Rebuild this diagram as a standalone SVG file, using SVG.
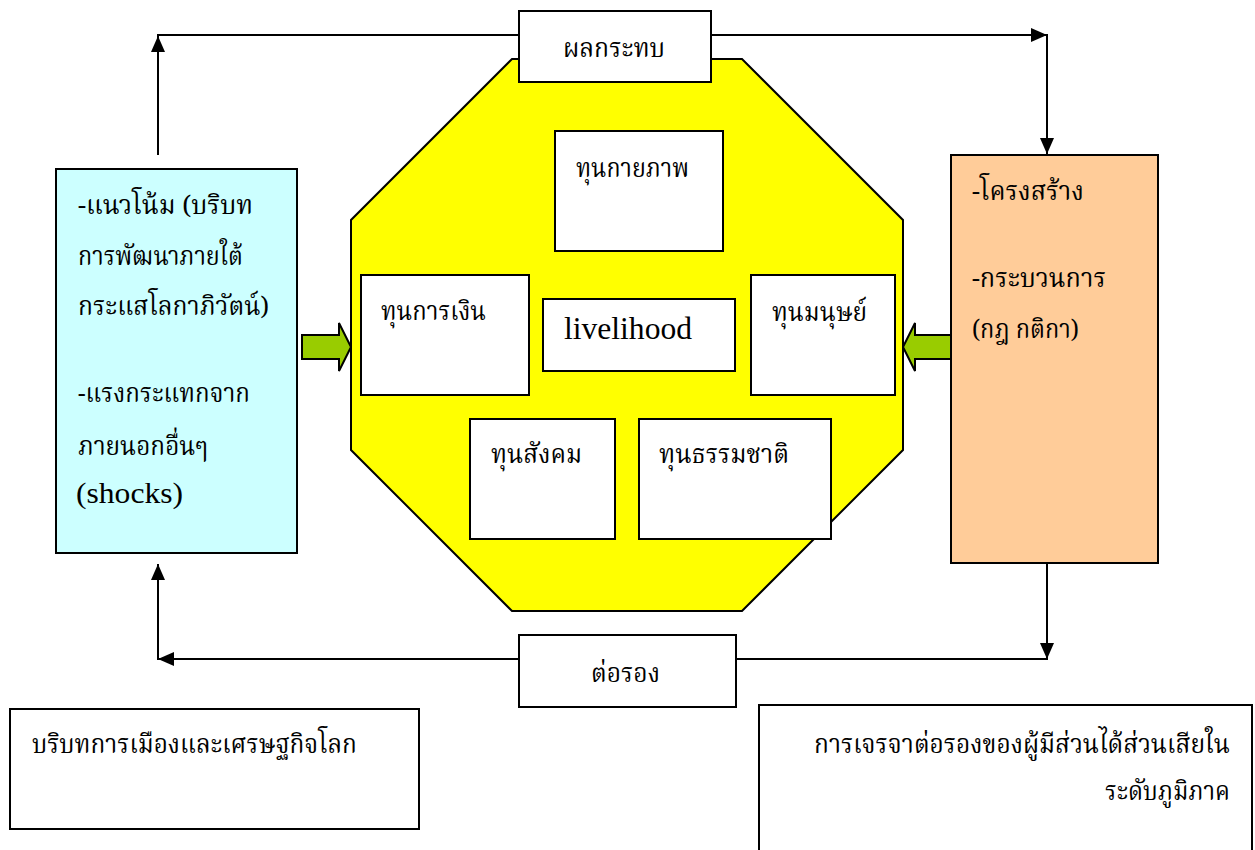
<svg xmlns="http://www.w3.org/2000/svg" width="1255" height="850" viewBox="0 0 1255 850">
<defs>
<marker id="ah" viewBox="0 0 16 14" refX="16" refY="7" markerWidth="16" markerHeight="14" markerUnits="userSpaceOnUse" orient="auto">
<path d="M0,0 L16,7 L0,14 z" fill="#000"/>
</marker>
</defs>
<style>
.box{fill:#fff;stroke:#000;stroke-width:2}
.th{font-family:"Noto Serif Thai","Noto Sans Thai","Liberation Serif",serif;font-size:26px;fill:#000}
.en{font-family:"Liberation Serif","Times New Roman",serif;font-size:31px;fill:#000}
.sm{font-size:29px}
.ln{fill:none;stroke:#000;stroke-width:2}
.grn{fill:#99cc00;stroke:#000;stroke-width:2}
</style>
<rect width="1255" height="850" fill="#fff"/>

<g id="octagon">
<polygon points="512,59 742,59 903,220 903,450 742,611 512,611 351,450 351,220" fill="#ffff00" stroke="#000" stroke-width="2"/>
</g>

<g id="connectors">
<path class="ln" d="M158,155 V36" marker-end="url(#ah)"/>
<path class="ln" d="M157,35 H519"/>
<path class="ln" d="M711,35 H1047" marker-end="url(#ah)"/>
<path class="ln" d="M1047,34 V154" marker-end="url(#ah)"/>
<path class="ln" d="M1047,563 V659" marker-end="url(#ah)"/>
<path class="ln" d="M1048,659 H736"/>
<path class="ln" d="M519,659 H158" marker-end="url(#ah)"/>
<path class="ln" d="M158,660 V564" marker-end="url(#ah)"/>
<polygon class="grn" points="302,335 339,335 339,323 351,347 339,371 339,359 302,359"/>
<polygon class="grn" points="951,335 915,335 915,323 903,347 915,371 915,359 951,359"/>
</g>

<g id="impact">
<rect class="box" x="519" y="11" width="192" height="71"/>
<text class="th" x="563" y="57" textLength="102" lengthAdjust="spacingAndGlyphs">ผลกระทบ</text>
</g>

<g id="trends">
<rect x="56" y="169" width="241" height="384" fill="#ccffff" stroke="#000" stroke-width="2"/>
<text class="th" x="78" y="214" textLength="175" lengthAdjust="spacingAndGlyphs">-แนวโน้ม (บริบท</text>
<text class="th" x="78" y="265" textLength="165" lengthAdjust="spacingAndGlyphs">การพัฒนาภายใต้</text>
<text class="th" x="78" y="315" textLength="191" lengthAdjust="spacingAndGlyphs">กระแสโลกาภิวัตน์)</text>
<text class="th" x="78" y="402" textLength="172" lengthAdjust="spacingAndGlyphs">-แรงกระแทกจาก</text>
<text class="th" x="78" y="455" textLength="130" lengthAdjust="spacingAndGlyphs">ภายนอกอื่นๆ</text>
<text class="en sm" x="76" y="503" textLength="107" lengthAdjust="spacingAndGlyphs">(shocks)</text>
</g>

<g id="structures">
<rect x="951" y="155" width="207" height="408" fill="#ffcc99" stroke="#000" stroke-width="2"/>
<text class="th" x="972" y="200" textLength="112" lengthAdjust="spacingAndGlyphs">-โครงสร้าง</text>
<text class="th" x="972" y="287" textLength="134" lengthAdjust="spacingAndGlyphs">-กระบวนการ</text>
<text class="th" x="972" y="338" textLength="107" lengthAdjust="spacingAndGlyphs">(กฎ กติกา)</text>
</g>

<g id="physical">
<rect class="box" x="555" y="131" width="168" height="120"/>
<text class="th" x="576" y="177" textLength="113" lengthAdjust="spacingAndGlyphs">ทุนกายภาพ</text>
</g>

<g id="financial">
<rect class="box" x="361" y="275" width="168" height="120"/>
<text class="th" x="381" y="320" textLength="105" lengthAdjust="spacingAndGlyphs">ทุนการเงิน</text>
</g>

<g id="livelihood">
<rect class="box" x="543" y="299" width="192" height="72"/>
<text class="en" x="564" y="339" textLength="128" lengthAdjust="spacingAndGlyphs">livelihood</text>
</g>

<g id="human">
<rect class="box" x="751" y="275" width="144" height="120"/>
<text class="th" x="772" y="321" textLength="95" lengthAdjust="spacingAndGlyphs">ทุนมนุษย์</text>
</g>

<g id="social">
<rect class="box" x="470" y="419" width="145" height="120"/>
<text class="th" x="491" y="463" textLength="91" lengthAdjust="spacingAndGlyphs">ทุนสังคม</text>
</g>

<g id="natural">
<rect class="box" x="639" y="419" width="192" height="120"/>
<text class="th" x="659" y="463" textLength="130" lengthAdjust="spacingAndGlyphs">ทุนธรรมชาติ</text>
</g>

<g id="negotiation">
<rect class="box" x="519" y="635" width="217" height="72"/>
<text class="th" x="591" y="682" textLength="69" lengthAdjust="spacingAndGlyphs">ต่อรอง</text>
</g>

<g id="global-context">
<rect class="box" x="10" y="709" width="409" height="120"/>
<text class="th" x="32" y="753" textLength="325" lengthAdjust="spacingAndGlyphs">บริบทการเมืองและเศรษฐกิจโลก</text>
</g>

<g id="regional-negotiation">
<rect class="box" x="759" y="705" width="493" height="160"/>
<text class="th" x="814" y="753" textLength="416" lengthAdjust="spacingAndGlyphs">การเจรจาต่อรองของผู้มีส่วนได้ส่วนเสียใน</text>
<text class="th" x="1105" y="800" textLength="125" lengthAdjust="spacingAndGlyphs">ระดับภูมิภาค</text>
</g>
</svg>
